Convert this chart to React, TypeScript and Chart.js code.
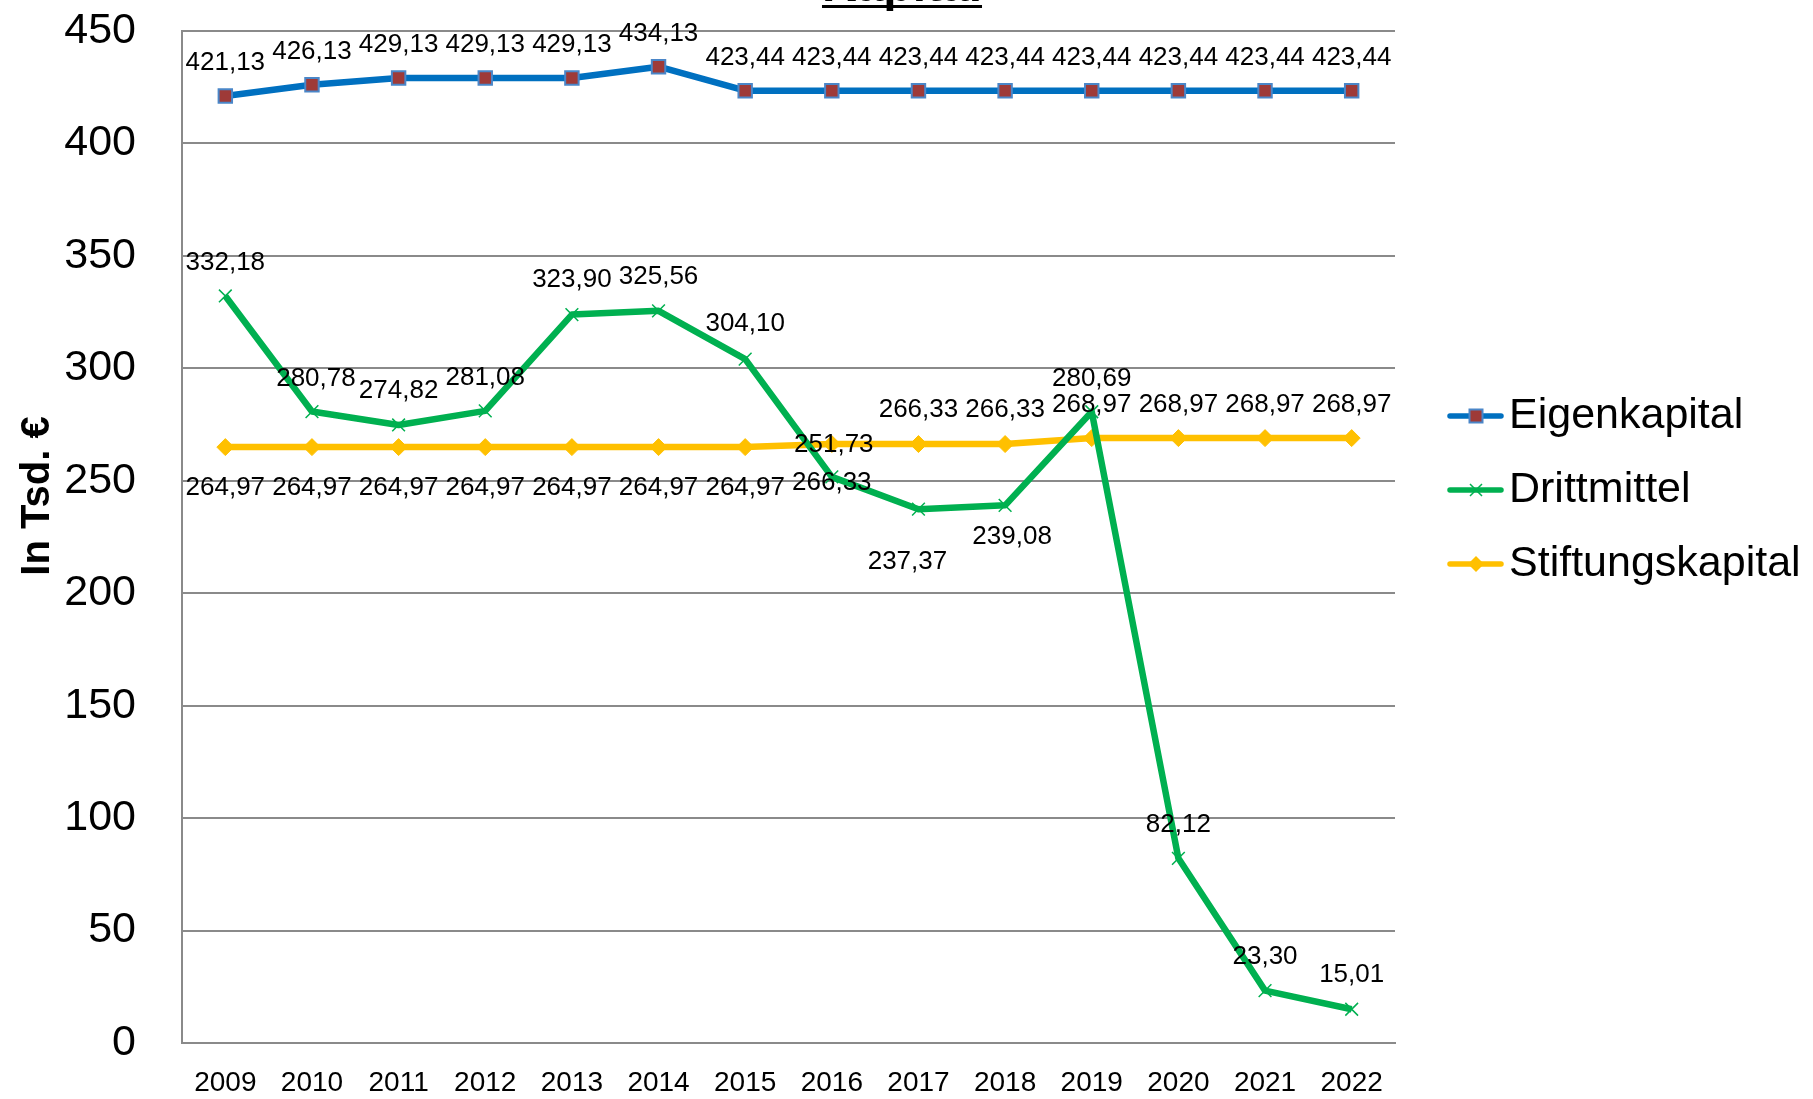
import React, { useEffect, useRef } from 'react';
import { Chart, registerables } from 'chart.js';

Chart.register(...registerables);

const years = ['2009', '2010', '2011', '2012', '2013', '2014', '2015', '2016', '2017', '2018', '2019', '2020', '2021', '2022'];
const eigenkapital = [421.13, 426.13, 429.13, 429.13, 429.13, 434.13, 423.44, 423.44, 423.44, 423.44, 423.44, 423.44, 423.44, 423.44];
const drittmittel = [332.18, 280.78, 274.82, 281.08, 323.9, 325.56, 304.1, 251.73, 237.37, 239.08, 280.69, 82.12, 23.3, 15.01];
const stiftungskapital = [264.97, 264.97, 264.97, 264.97, 264.97, 264.97, 264.97, 266.33, 266.33, 266.33, 268.97, 268.97, 268.97, 268.97];
const seriesNames = ['Eigenkapital', 'Drittmittel', 'Stiftungskapital'];
const chartTitle = 'Kapital';
const yAxisTitle = 'In Tsd. €';
const yMin = 0;
const yMax = 450;
const yStep = 50;

// label placement (style): [dx, dy] of label centre relative to the point
const eigenLabelOffsets = [[0, -35], [0, -35], [0, -35], [0, -35], [0, -35], [0, -35], [0, -35], [0, -35], [0, -35], [0, -35], [0, -35], [0, -35], [0, -35], [0, -35]];
const drittLabelOffsets = [[0, -35], [4, -35], [0, -36], [0, -35], [0, -37], [0, -36], [0, -37], [2, -34], [-11, 51], [7, 30], [0, -35], [0, -35], [0, -36], [0, -36]];
const stiftLabelOffsets = [[0, 39], [0, 39], [0, 39], [0, 39], [0, 39], [0, 39], [0, 39], [0, 37], [0, -36], [0, -36], [0, -35], [0, -35], [0, -35], [0, -35]];

const FONT = "'Liberation Sans', Arial, sans-serif";
const GRID = '#8A8A8A';
const BLUE = '#0070C0';
const GREEN = '#00B050';
const YELLOW = '#FFC000';
const BROWN = '#9E3A38';
const MARKER_BLUE = '#4A86C8';
const LINE_W = 6.5;

const fmt = (v: number) => v.toFixed(2).replace('.', ',');

function drawMarker(ctx: CanvasRenderingContext2D, kind: number, x: number, y: number) {
  ctx.save();
  if (kind === 0) {
    const s = 6.5;
    ctx.fillStyle = BROWN;
    ctx.strokeStyle = MARKER_BLUE;
    ctx.lineWidth = 2;
    ctx.fillRect(x - s, y - s, 2 * s, 2 * s);
    ctx.strokeRect(x - s, y - s, 2 * s, 2 * s);
  } else if (kind === 1) {
    const s = 6;
    ctx.strokeStyle = GREEN;
    ctx.lineWidth = 1.5;
    ctx.beginPath();
    ctx.moveTo(x - s, y - s);
    ctx.lineTo(x + s, y + s);
    ctx.moveTo(x - s, y + s);
    ctx.lineTo(x + s, y - s);
    ctx.stroke();
  } else {
    const s = 8;
    ctx.fillStyle = YELLOW;
    ctx.beginPath();
    ctx.moveTo(x, y - s);
    ctx.lineTo(x + s, y);
    ctx.lineTo(x, y + s);
    ctx.lineTo(x - s, y);
    ctx.closePath();
    ctx.fill();
  }
  ctx.restore();
}

const decorPlugin = {
  id: 'decor',
  afterDatasetsDraw(chart: any) {
    const ctx: CanvasRenderingContext2D = chart.ctx;
    const offsets = [eigenLabelOffsets, drittLabelOffsets, stiftLabelOffsets];
    ctx.save();
    ctx.fillStyle = '#000';
    ctx.font = `26px ${FONT}`;
    ctx.textAlign = 'center';
    ctx.textBaseline = 'alphabetic';
    chart.data.datasets.forEach((ds: any, di: number) => {
      const meta = chart.getDatasetMeta(di);
      meta.data.forEach((pt: any, i: number) => {
        const [dx, dy] = offsets[di][i];
        ctx.fillText(fmt(ds.data[i]), pt.x + dx, pt.y + dy + 9);
      });
    });
    ctx.restore();
  },
  afterDraw(chart: any) {
    const ctx: CanvasRenderingContext2D = chart.ctx;
    // title (cut off at the top as in the original)
    ctx.save();
    ctx.fillStyle = '#000';
    ctx.font = `bold 48px ${FONT}`;
    ctx.textAlign = 'center';
    ctx.textBaseline = 'alphabetic';
    const tx = 902;
    ctx.fillText(chartTitle, tx, 1);
    const tw = ctx.measureText(chartTitle).width;
    ctx.fillRect(tx - tw / 2, 5, tw, 3);
    ctx.restore();

    // y axis title
    ctx.save();
    ctx.fillStyle = '#000';
    ctx.font = `bold 40px ${FONT}`;
    ctx.textAlign = 'center';
    ctx.textBaseline = 'alphabetic';
    ctx.translate(49, 496);
    ctx.rotate(-Math.PI / 2);
    ctx.fillText(yAxisTitle, 0, 0);
    ctx.restore();

    // legend
    const rows = [416, 490, 564];
    const colors = [BLUE, GREEN, YELLOW];
    seriesNames.forEach((name, i) => {
      const y = rows[i];
      ctx.save();
      ctx.strokeStyle = colors[i];
      ctx.lineWidth = 5.5;
      ctx.lineCap = 'round';
      ctx.beginPath();
      ctx.moveTo(1450, y);
      ctx.lineTo(1501, y);
      ctx.stroke();
      ctx.restore();
      drawMarker(ctx, i, 1476, y);
      ctx.save();
      ctx.fillStyle = '#000';
      ctx.font = `43px ${FONT}`;
      ctx.textAlign = 'left';
      ctx.textBaseline = 'alphabetic';
      ctx.fillText(name, 1509, y + 12);
      ctx.restore();
    });
  },
};

export default function App() {
  const ref = useRef<HTMLCanvasElement | null>(null);

  useEffect(() => {
    if (!ref.current) return;
    const chart = new Chart(ref.current, {
      type: 'line',
      data: {
        labels: years,
        datasets: [
          {
            label: seriesNames[0],
            data: eigenkapital,
            borderColor: BLUE,
            backgroundColor: BROWN,
            borderWidth: LINE_W,
            borderJoinStyle: 'round',
            pointStyle: 'rect',
            pointRadius: 9.5,
            pointBackgroundColor: BROWN,
            pointBorderColor: MARKER_BLUE,
            pointBorderWidth: 2,
            tension: 0,
          },
          {
            label: seriesNames[1],
            data: drittmittel,
            borderColor: GREEN,
            backgroundColor: GREEN,
            borderWidth: LINE_W,
            borderJoinStyle: 'round',
            pointStyle: 'crossRot',
            pointRadius: 9,
            pointBorderColor: GREEN,
            pointBorderWidth: 1.5,
            tension: 0,
          },
          {
            label: seriesNames[2],
            data: stiftungskapital,
            borderColor: YELLOW,
            backgroundColor: YELLOW,
            borderWidth: LINE_W,
            borderJoinStyle: 'round',
            pointStyle: 'rectRot',
            pointRadius: 8.5,
            pointBackgroundColor: YELLOW,
            pointBorderColor: YELLOW,
            pointBorderWidth: 1,
            tension: 0,
          },
        ],
      },
      options: {
        responsive: false,
        animation: false,
        devicePixelRatio: 1,
        layout: { padding: { left: 0, top: 31, right: 418, bottom: 0 } },
        plugins: {
          legend: { display: false },
          title: { display: false },
          tooltip: { enabled: false },
        },
        scales: {
          x: {
            offset: true,
            grid: { display: false, drawTicks: false },
            border: { display: true, color: GRID, width: 2 },
            ticks: {
              color: '#000',
              font: { family: FONT, size: 28 },
              padding: 23,
              maxRotation: 0,
              autoSkip: false,
            },
            afterFit: (s: any) => {
              s.height = 56;
              s.paddingLeft = 0;
              s.paddingRight = 0;
            },
          },
          y: {
            min: yMin,
            max: yMax,
            grid: { color: GRID, lineWidth: 2, drawTicks: false },
            border: { display: true, color: GRID, width: 2 },
            ticks: {
              stepSize: yStep,
              color: '#000',
              font: { family: FONT, size: 43 },
              padding: 46,
            },
            afterFit: (s: any) => {
              s.width = 182;
              s.paddingTop = 0;
              s.paddingBottom = 0;
            },
          },
        },
      },
      plugins: [decorPlugin],
    });
    return () => chart.destroy();
  }, []);

  return (
    <div style={{ position: 'fixed', left: 0, top: 0, width: 1813, height: 1099, background: '#fff' }}>
      <canvas ref={ref} width={1813} height={1099} style={{ display: 'block' }} />
    </div>
  );
}
